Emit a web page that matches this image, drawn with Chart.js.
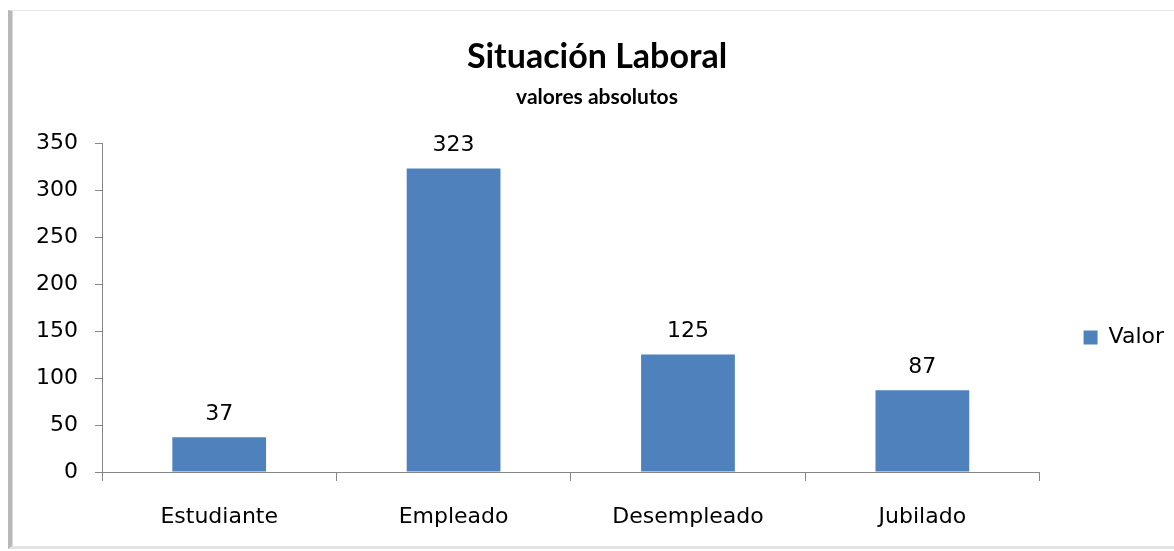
<!DOCTYPE html>
<html><head><meta charset="utf-8">
<script src="https://cdn.jsdelivr.net/npm/chart.js@4"></script>
<style>
html,body{margin:0;padding:0;background:#fff;}
#wrap{position:relative;width:1174px;height:551px;overflow:hidden;}
#frame{position:absolute;left:8px;top:10px;width:1170px;height:535px;border-top:1px solid #e6e6e6;border-bottom:3px solid #e4e4e4;border-left:4px solid #b8b8b8;box-shadow:inset 1px 0 0 #d8d8d8;}
canvas{position:absolute;left:0;top:0;}
</style></head>
<body><div id="wrap"><div id="frame"></div><canvas id="c" width="1174" height="551"></canvas></div>
<script>
const categories = ["Estudiante", "Empleado", "Desempleado", "Jubilado"];
const valores = [37, 323, 125, 87];
const seriesName = "Valor";
const titleText = "Situación Laboral";
const subtitleText = "valores absolutos";

const tickFont = {family: "DejaVu Sans", size: 22};
const labelPlugin = {
  id: 'dataLabels',
  afterDatasetsDraw(chart) {
    const ctx = chart.ctx;
    const meta = chart.getDatasetMeta(0);
    ctx.save();
    ctx.font = '22px "DejaVu Sans"';
    ctx.fillStyle = '#000';
    ctx.textAlign = 'center';
    ctx.textBaseline = 'middle';
    meta.data.forEach((bar, i) => {
      ctx.fillText(String(valores[i]), bar.x, bar.y - 23);
    });
    ctx.restore();
  }
};

new Chart(document.getElementById('c'), {
  type: 'bar',
  data: {
    labels: categories,
    datasets: [{
      label: seriesName,
      data: valores,
      backgroundColor: '#4F81BD',
      borderWidth: 0,
      categoryPercentage: 0.4,
      barPercentage: 1.0
    }]
  },
  options: {
    responsive: false,
    animation: false,
    layout: {padding: {left: 20, right: 0, top: 37, bottom: 21}},
    plugins: {
      title: {display: true, text: titleText, color: '#000',
        font: {family: "Lato", size: 34, weight: 'bold'}, padding: {top: 0, bottom: 7}},
      subtitle: {display: true, text: subtitleText, color: '#000',
        font: {family: "Lato", size: 21, weight: 'bold'}, padding: {top: 0, bottom: 33}},
      legend: {position: 'right',
        title: {display: true, text: '', font: {size: 1}, padding: {top: 107, bottom: 0}},
        labels: {boxWidth: 14, boxHeight: 14, color: '#000',
        font: {family: "DejaVu Sans", size: 22}, padding: 44}},
      tooltip: {enabled: false}
    },
    scales: {
      x: {
        grid: {display: true, drawOnChartArea: false, offset: true, color: '#868686', tickLength: 9, tickColor: '#868686'},
        border: {color: '#868686', width: 1},
        ticks: {color: '#000', font: tickFont, padding: 23, maxRotation: 0},
        afterFit(scale) { scale.height = 58; }
      },
      y: {
        min: 0, max: 350,
        grid: {display: true, drawOnChartArea: false, color: '#868686', tickLength: 7, tickColor: '#868686'},
        border: {color: '#868686', width: 1},
        ticks: {stepSize: 50, color: '#000', font: tickFont, padding: 17},
        afterFit(scale) { scale.width = 82; }
      }
    }
  },
  plugins: [labelPlugin]
});
</script></body></html>
